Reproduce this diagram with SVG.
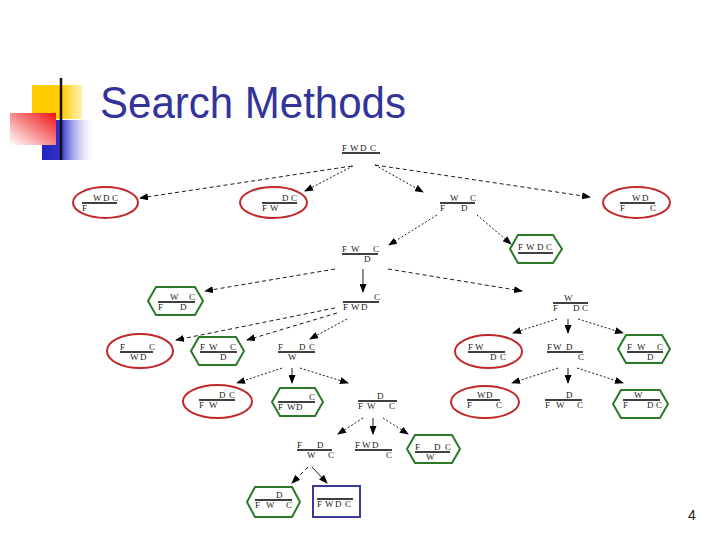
<svg xmlns="http://www.w3.org/2000/svg" width="720" height="540" viewBox="0 0 720 540">
<defs>
<linearGradient id="gY" x1="0" y1="0" x2="1" y2="0"><stop offset="0" stop-color="#ffcc00"/><stop offset="0.6" stop-color="#ffcc00"/><stop offset="1" stop-color="#ffe680" stop-opacity="0.6"/></linearGradient>
<linearGradient id="gR" x1="0" y1="1" x2="1" y2="0"><stop offset="0" stop-color="#ffffff"/><stop offset="1" stop-color="#ee1111"/></linearGradient>
<linearGradient id="gB" x1="0" y1="0" x2="1" y2="0"><stop offset="0" stop-color="#2222bb"/><stop offset="0.35" stop-color="#3333cc"/><stop offset="1" stop-color="#ffffff" stop-opacity="0"/></linearGradient>
<linearGradient id="gL" x1="0" y1="0" x2="1" y2="0"><stop offset="0" stop-color="#111111"/><stop offset="0.5" stop-color="#777777"/><stop offset="1" stop-color="#dddddd"/></linearGradient>
<marker id="ar" markerWidth="9" markerHeight="7" refX="8" refY="3.5" orient="auto" markerUnits="userSpaceOnUse"><path d="M0,0 L9,3.5 L0,7 z" fill="#000"/></marker>
</defs>
<style>
.t{font-family:"Liberation Serif","DejaVu Serif",serif;font-size:9px;fill:#222}
.ln{stroke:#000;stroke-width:1.3}
.red{fill:none;stroke:#c0282a;stroke-width:2}
.grn{fill:none;stroke:#2a7a2a;stroke-width:2}
.blu{fill:none;stroke:#3a3a99;stroke-width:2}
.c{fill:none;stroke:#000;stroke-width:0.9;marker-end:url(#ar)}
.da{stroke-dasharray:4,3}
.do{stroke-dasharray:2,2}
</style>
<rect width="720" height="540" fill="#fff"/>
<g id="title-deco">
<rect x="32" y="85" width="50" height="34" fill="url(#gY)"/>
<rect x="42" y="120" width="55" height="40" fill="url(#gB)"/>
<rect x="10" y="113" width="46" height="32" fill="url(#gR)"/>
<line x1="35" y1="142" x2="718" y2="142" stroke="url(#gL)" stroke-width="3"/>
<line x1="61" y1="78" x2="61" y2="160" stroke="#111" stroke-width="2.5"/>
<text x="100" y="118" font-family="Liberation Sans, Arial, sans-serif" font-size="44" fill="#333399" textLength="306" lengthAdjust="spacingAndGlyphs">Search Methods</text>
</g>
<g id="connectors">
<line class="c da" x1="352" y1="166" x2="140" y2="198"/>
<line class="c do" x1="353" y1="166" x2="305" y2="191"/>
<line class="c do" x1="375" y1="165" x2="423" y2="192"/>
<line class="c da" x1="375" y1="165" x2="590" y2="197"/>
<line class="c do" x1="437" y1="215" x2="389" y2="245"/>
<line class="c do" x1="477" y1="215" x2="511" y2="244"/>
<line class="c da" x1="335" y1="269" x2="205" y2="291"/>
<line class="c da" x1="388" y1="269" x2="522" y2="291"/>
<line class="c" x1="363" y1="269" x2="363" y2="292"/>
<line class="c da" x1="335" y1="308" x2="176" y2="340"/>
<line class="c da" x1="337" y1="313" x2="247" y2="340"/>
<line class="c do" x1="347" y1="319" x2="310" y2="339"/>
<line class="c do" x1="557" y1="319" x2="513" y2="333"/>
<line class="c" x1="568" y1="319" x2="568" y2="333"/>
<line class="c do" x1="578" y1="319" x2="623" y2="333"/>
<line class="c do" x1="282" y1="368" x2="237" y2="383"/>
<line class="c" x1="292" y1="368" x2="292" y2="383"/>
<line class="c do" x1="300" y1="368" x2="348" y2="383"/>
<line class="c do" x1="558" y1="368" x2="512" y2="383"/>
<line class="c" x1="568" y1="368" x2="568" y2="383"/>
<line class="c do" x1="577" y1="368" x2="623" y2="383"/>
<line class="c do" x1="363" y1="418" x2="338" y2="434"/>
<line class="c" x1="373" y1="418" x2="373" y2="434"/>
<line class="c do" x1="383" y1="418" x2="408" y2="434"/>
<line class="c da" x1="308" y1="467" x2="292" y2="483"/>
<line class="c" x1="312" y1="467" x2="327" y2="483"/>
</g>
<g id="root"><line class="ln" x1="342" y1="153" x2="380" y2="153"/><text class="t" x="342 350 360 370" y="151">FWDC</text></g>
<g id="e1"><ellipse class="red" cx="105.5" cy="202.5" rx="32.5" ry="15.5"/><line class="ln" x1="82" y1="203" x2="117" y2="203"/><text class="t" x="93 103 112" y="201">WDC</text><text class="t" x="82" y="211">F</text></g>
<g id="e2"><ellipse class="red" cx="273.5" cy="202.5" rx="33.5" ry="15.5"/><line class="ln" x1="262" y1="203" x2="297" y2="203"/><text class="t" x="282 291" y="201">DC</text><text class="t" x="262 270" y="211">FW</text></g>
<g id="n1"><line class="ln" x1="440" y1="203" x2="475" y2="203"/><text class="t" x="450 470" y="201">WC</text><text class="t" x="440 461" y="211">FD</text></g>
<g id="e3"><ellipse class="red" cx="636.5" cy="202.5" rx="33.5" ry="15.5"/><line class="ln" x1="620" y1="203" x2="655" y2="203"/><text class="t" x="632 642" y="201">WD</text><text class="t" x="620 650" y="211">FC</text></g>
<g id="n2"><line class="ln" x1="342" y1="254" x2="378" y2="254"/><text class="t" x="342 351 373" y="252">FWC</text><text class="t" x="364" y="262">D</text></g>
<g id="h1"><polygon class="grn" points="510,249 518,235 553,235 562,249 553,263 518,263"/><text class="t" x="518 526 537 546" y="250">FWDC</text><line class="ln" x1="518" y1="253" x2="553" y2="253" stroke-width="1.6"/></g>
<g id="h2"><polygon class="grn" points="148,301 156,287 195,287 203,301 195,315 156,315"/><line class="ln" x1="158" y1="302" x2="195" y2="302"/><text class="t" x="170 189" y="300">WC</text><text class="t" x="158 180" y="310">FD</text></g>
<g id="n3"><line class="ln" x1="343" y1="302" x2="379" y2="302"/><text class="t" x="374" y="300">C</text><text class="t" x="343 351 361" y="310">FWD</text></g>
<g id="n4"><line class="ln" x1="553" y1="303" x2="588" y2="303"/><text class="t" x="564" y="301">W</text><text class="t" x="553 573 582" y="311">FDC</text></g>
<g id="e4"><ellipse class="red" cx="140" cy="351" rx="33" ry="17"/><line class="ln" x1="120" y1="352" x2="153" y2="352"/><text class="t" x="120 149" y="350">FC</text><text class="t" x="130 140" y="360">WD</text></g>
<g id="h3"><polygon class="grn" points="191,351 199,337 236,337 244,351 236,365 199,365"/><line class="ln" x1="200" y1="352" x2="237" y2="352"/><text class="t" x="200 209 230" y="350">FWC</text><text class="t" x="220" y="360">D</text></g>
<g id="n5"><line class="ln" x1="278" y1="352" x2="315" y2="352"/><text class="t" x="278 299 309" y="350">FDC</text><text class="t" x="288" y="360">W</text></g>
<g id="e5"><ellipse class="red" cx="488.5" cy="351.5" rx="33.5" ry="16.5"/><line class="ln" x1="468" y1="352" x2="505" y2="352"/><text class="t" x="468 475" y="350">FW</text><text class="t" x="490 500" y="360">DC</text></g>
<g id="n6"><line class="ln" x1="547" y1="352" x2="583" y2="352"/><text class="t" x="547 553 566" y="350">FWD</text><text class="t" x="578" y="360">C</text></g>
<g id="h4"><polygon class="grn" points="618,349 626,335 662,335 670,349 662,363 626,363"/><line class="ln" x1="627" y1="352" x2="663" y2="352"/><text class="t" x="627 637 657" y="350">FWC</text><text class="t" x="647" y="360">D</text></g>
<g id="e6"><ellipse class="red" cx="217.5" cy="401.5" rx="34.5" ry="16.5"/><line class="ln" x1="199" y1="400" x2="235" y2="400"/><text class="t" x="219 229" y="398">DC</text><text class="t" x="199 209" y="408">FW</text></g>
<g id="h5"><polygon class="grn" points="272,402 280,388 315,388 323,402 315,416 280,416"/><line class="ln" x1="278" y1="402" x2="315" y2="402"/><text class="t" x="309" y="400">C</text><text class="t" x="278 287 296" y="410">FWD</text></g>
<g id="n7"><line class="ln" x1="358" y1="401" x2="397" y2="401"/><text class="t" x="377" y="399">D</text><text class="t" x="358 367 389" y="409">FWC</text></g>
<g id="e7"><ellipse class="red" cx="485" cy="402" rx="34" ry="16"/><line class="ln" x1="467" y1="400" x2="500" y2="400"/><text class="t" x="477 486" y="398">WD</text><text class="t" x="467 496" y="408">FC</text></g>
<g id="n8"><line class="ln" x1="545" y1="400" x2="582" y2="400"/><text class="t" x="566" y="398">D</text><text class="t" x="545 556 577" y="408">FWC</text></g>
<g id="h6"><polygon class="grn" points="613,404 621,390 660,390 668,404 660,418 621,418"/><line class="ln" x1="623" y1="400" x2="660" y2="400"/><text class="t" x="634" y="398">W</text><text class="t" x="623 647 656" y="408">FDC</text></g>
<g id="n9"><line class="ln" x1="297" y1="450" x2="332" y2="450"/><text class="t" x="297 317" y="448">FD</text><text class="t" x="307 328" y="458">WC</text></g>
<g id="n10"><line class="ln" x1="355" y1="450" x2="392" y2="450"/><text class="t" x="355 362 372" y="448">FWD</text><text class="t" x="386" y="458">C</text></g>
<g id="h7"><polygon class="grn" points="407,449 415,435 452,435 460,449 452,463 415,463"/><line class="ln" x1="415" y1="452" x2="450" y2="452"/><text class="t" x="415 434 445" y="450">FDC</text><text class="t" x="426" y="460">W</text></g>
<g id="h8"><polygon class="grn" points="247,502 255,487 292,487 300,502 292,517 255,517"/><line class="ln" x1="255" y1="500" x2="292" y2="500"/><text class="t" x="276" y="498">D</text><text class="t" x="255 266 286" y="508">FWC</text></g>
<g id="goal"><rect class="blu" x="313" y="486" width="47" height="31"/><line class="ln" x1="317" y1="499" x2="353" y2="499"/><text class="t" x="317 325 335 345" y="507">FWDC</text></g>
<text x="692" y="520" font-family="Liberation Sans, Arial, sans-serif" font-size="14" fill="#222" text-anchor="middle">4</text>
</svg>
